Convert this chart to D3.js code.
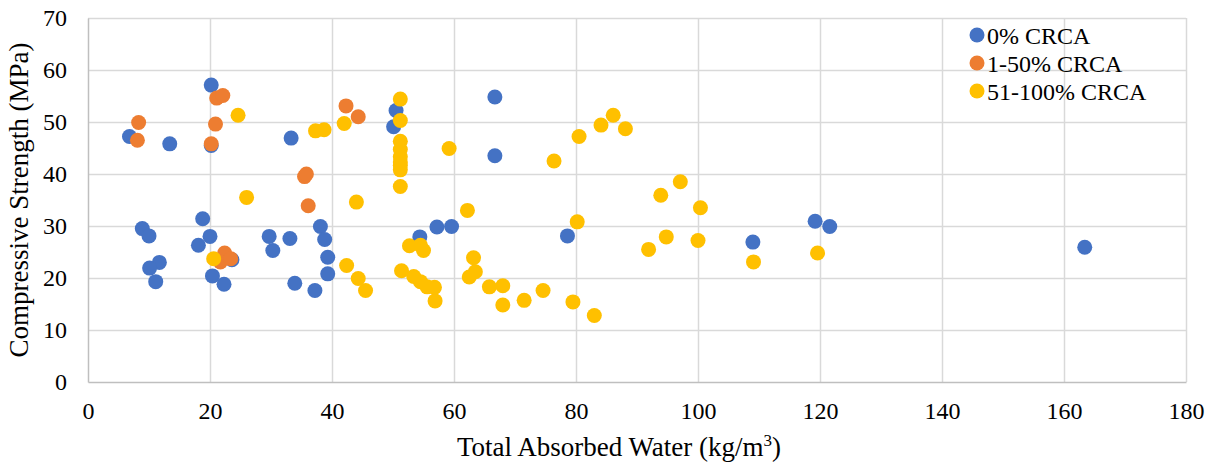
<!DOCTYPE html>
<html>
<head>
<meta charset="utf-8">
<script src="https://cdn.jsdelivr.net/npm/d3@7"></script>
<style>
  body { margin: 0; background: #fff; }
  #svg, #svg text { font-family: 'Liberation Serif', 'Times New Roman', Times, 'DejaVu Serif', serif; fill: #000; }
</style>
</head>
<body>
<svg id="svg" width="1212" height="462"></svg>
<script>
// 数据：每个系列的 x（吸水量）和 y（抗压强度）
const seriesNames = ['0% CRCA', '1-50% CRCA', '51-100% CRCA'];
const seriesColors = ['#4472C4', '#ED7D31', '#FFC000'];

const crca0X = [20.2, 6.8, 13.4, 20.2, 33.3, 18.8, 8.9, 10.0, 20.0, 18.1, 11.7, 10.1, 11.1, 20.4, 22.3, 23.6,
  29.7, 30.3, 33.1, 33.9, 38.1, 38.8, 39.3, 39.3, 37.2, 50.5, 50.1, 54.4, 57.2, 59.6, 66.7, 66.7,
  78.6, 109.0, 119.2, 121.6, 163.4];
const crca0Y = [57.1, 47.2, 45.8, 45.5, 46.9, 31.4, 29.5, 28.1, 28.0, 26.3, 23.0, 21.9, 19.3, 20.4, 18.8, 23.5,
  28.0, 25.3, 27.6, 19.0, 29.9, 27.4, 24.0, 20.8, 17.6, 52.2, 49.1, 27.9, 29.8, 29.9, 54.8, 43.5,
  28.1, 26.9, 30.9, 29.9, 25.9];

const crca50X = [21.1, 22.1, 8.3, 8.1, 20.9, 20.2, 22.4, 21.7, 23.4, 35.5, 35.8, 36.1, 42.3, 44.3];
const crca50Y = [54.6, 55.1, 49.9, 46.5, 49.6, 45.8, 24.8, 23.1, 23.7, 39.5, 40.0, 33.9, 53.1, 51.0];

const crca100X = [24.6, 26.0, 20.6, 37.3, 38.7, 42.0, 44.0, 42.4, 44.3, 45.5,
  51.2, 51.2, 51.2, 51.2, 51.2, 51.2, 51.2, 51.2, 51.2,
  51.4, 52.7, 54.5, 55.0, 53.4, 54.5, 55.6, 56.8, 56.9, 59.2, 62.2, 63.2, 63.5, 62.5, 65.8,
  68.0, 68.0, 71.5, 74.6, 79.5, 83.0, 80.2, 76.4, 80.5, 84.1, 86.1, 88.1, 91.9, 94.8, 93.9,
  97.1, 100.4, 100.0, 109.1, 119.6];
const crca100Y = [51.3, 35.5, 23.7, 48.3, 48.5, 49.7, 34.6, 22.4, 19.9, 17.6,
  54.4, 50.3, 46.3, 44.7, 43.3, 42.3, 41.7, 40.8, 37.6,
  21.4, 26.2, 26.3, 25.3, 20.3, 19.3, 18.3, 18.2, 15.6, 44.9, 33.0, 23.9, 21.2, 20.2, 18.3,
  14.8, 18.5, 15.7, 17.6, 15.4, 12.8, 30.8, 42.5, 47.2, 49.4, 51.3, 48.7, 25.5, 27.9, 35.9,
  38.5, 33.5, 27.2, 23.1, 24.8];

const xTicks = [0, 20, 40, 60, 80, 100, 120, 140, 160, 180];
const yTicks = [0, 10, 20, 30, 40, 50, 60, 70];

const series = [
  { name: seriesNames[0], color: seriesColors[0], xs: crca0X, ys: crca0Y },
  { name: seriesNames[1], color: seriesColors[1], xs: crca50X, ys: crca50Y },
  { name: seriesNames[2], color: seriesColors[2], xs: crca100X, ys: crca100Y }
];

const svg = d3.select('#svg');
const plot = { left: 88, right: 1186, top: 18, bottom: 382 };
const serif = "'Liberation Serif', 'Times New Roman', serif";

const x = d3.scaleLinear().domain([0, 180]).range([plot.left, plot.right]);
const y = d3.scaleLinear().domain([0, 70]).range([plot.bottom, plot.top]);

// 网格线
const grid = svg.append('g');
grid.selectAll('.hg').data(yTicks.slice(1)).join('line')
  .attr('x1', plot.left).attr('x2', plot.right)
  .attr('y1', d => Math.round(y(d)) + 0.5).attr('y2', d => Math.round(y(d)) + 0.5)
  .attr('stroke', '#d9d9d9').attr('stroke-width', 1.5);
grid.selectAll('.vg').data(xTicks.slice(1)).join('line')
  .attr('y1', plot.top).attr('y2', plot.bottom)
  .attr('x1', d => Math.round(x(d)) + 0.5).attr('x2', d => Math.round(x(d)) + 0.5)
  .attr('stroke', '#d9d9d9').attr('stroke-width', 1.5);

// 坐标轴
const xAxis = svg.append('g').attr('transform', `translate(0,${plot.bottom})`)
  .call(d3.axisBottom(x).tickValues(xTicks).tickSize(0).tickPadding(20));
const yAxis = svg.append('g').attr('transform', `translate(${plot.left},0)`)
  .call(d3.axisLeft(y).tickValues(yTicks).tickSize(0).tickPadding(21));
[xAxis, yAxis].forEach(a => {
  a.attr('font-family', null).attr('font-size', null);
  a.select('.domain').attr('stroke', '#bfbfbf').attr('stroke-width', 1.5);
  a.selectAll('text').style('font-family', serif).style('font-size', '24px');
});

// 散点：先画 0%，再 1-50%，最后 51-100%
series.forEach(s => {
  svg.append('g').selectAll('circle')
    .data(s.xs.map((v, i) => [v, s.ys[i]]))
    .join('circle')
    .attr('cx', d => x(d[0]))
    .attr('cy', d => y(d[1]))
    .attr('r', 7.5)
    .attr('fill', s.color);
});

// 轴标题
const xt = svg.append('text')
  .attr('x', 619).attr('y', 456)
  .attr('text-anchor', 'middle')
  .style('font-family', serif).style('font-size', '27px');
xt.append('tspan').text('Total Absorbed Water (kg/m');
xt.append('tspan').text('3').style('font-size', '17px').attr('dy', -10);
xt.append('tspan').text(')').attr('dy', 10);

svg.append('text')
  .attr('transform', 'translate(28,200) rotate(-90)')
  .attr('text-anchor', 'middle')
  .style('font-family', serif).style('font-size', '27px')
  .text('Compressive Strength (MPa)');

// 图例
const legend = svg.append('g');
series.forEach((s, i) => {
  const ly = 35 + i * 28;
  legend.append('circle').attr('cx', 977).attr('cy', ly).attr('r', 7.5).attr('fill', s.color);
  legend.append('text').attr('x', 987).attr('y', ly + 8.5)
    .style('font-family', serif).style('font-size', '24px').text(s.name);
});
</script>
</body>
</html>
